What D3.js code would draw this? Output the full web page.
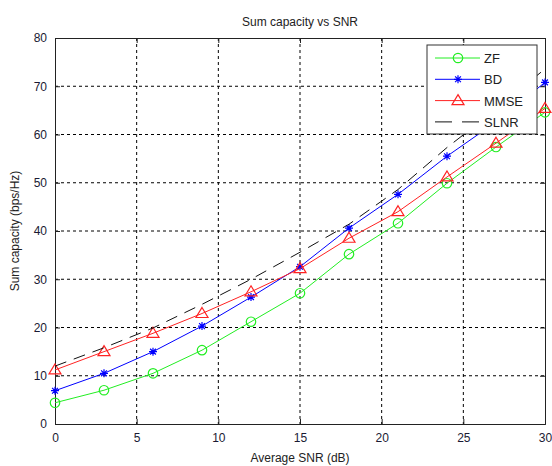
<!DOCTYPE html>
<html>
<head>
<meta charset="utf-8">
<script src="https://cdn.jsdelivr.net/npm/d3@7"></script>
<style>
  body { margin: 0; background: #fff; }
  svg { font-family: "Liberation Sans", Arial, sans-serif; }
</style>
</head>
<body>
<svg id="chart" width="552" height="466"></svg>
<script>
// values
const snr = [0, 3, 6, 9, 12, 15, 18, 21, 24, 27, 30];
const zf = [4.4, 7.0, 10.5, 15.3, 21.2, 27.1, 35.2, 41.6, 49.9, 57.4, 64.6];
const bd = [6.9, 10.5, 15.0, 20.3, 26.3, 32.6, 40.6, 47.6, 55.5, 62.6, 70.8];
const mmse = [11.2, 15.0, 18.8, 22.9, 27.4, 32.2, 38.5, 44.0, 51.2, 58.2, 65.4];
const slnr = [12.0, 15.8, 19.9, 24.8, 30.0, 35.6, 41.4, 48.6, 57.3, 65.2, 73.6];
const xTicks = [0, 5, 10, 15, 20, 25, 30];
const yTicks = [0, 10, 20, 30, 40, 50, 60, 70, 80];

const series = [
  { name: "ZF", values: zf, color: "#22ee22", marker: "circle", dash: null },
  { name: "BD", values: bd, color: "#0000ff", marker: "star", dash: null },
  { name: "MMSE", values: mmse, color: "#ff2222", marker: "triangle", dash: null },
  { name: "SLNR", values: slnr, color: "#111", marker: null, dash: "12,8" }
];

const margin = { top: 38, right: 7, bottom: 42, left: 55 };
const width = 552 - margin.left - margin.right;
const height = 466 - margin.top - margin.bottom;

const svg = d3.select("#chart");
const g = svg.append("g").attr("transform", `translate(${margin.left},${margin.top})`);

const x = d3.scaleLinear().domain([0, 30]).range([0, width]);
const y = d3.scaleLinear().domain([0, 80]).range([height, 0]);

// grid
g.append("g").selectAll("line").data(xTicks.slice(1, -1)).join("line")
  .attr("x1", d => x(d)).attr("x2", d => x(d))
  .attr("y1", 0).attr("y2", height)
  .attr("stroke", "#000").attr("stroke-width", 1).attr("stroke-dasharray", "3,3");
g.append("g").selectAll("line").data(yTicks.slice(1, -1)).join("line")
  .attr("y1", d => y(d)).attr("y2", d => y(d))
  .attr("x1", 0).attr("x2", width)
  .attr("stroke", "#000").attr("stroke-width", 1).attr("stroke-dasharray", "3,3");

// axes
const xAxis = g.append("g").attr("transform", `translate(0,${height})`)
  .call(d3.axisBottom(x).tickValues(xTicks).tickSize(-5).tickPadding(9));
const yAxis = g.append("g")
  .call(d3.axisLeft(y).tickValues(yTicks).tickSize(-5).tickPadding(8));
g.append("g").attr("transform", `translate(${width},0)`)
  .call(d3.axisRight(y).tickValues(yTicks).tickSize(-5).tickFormat(""));
g.append("g")
  .call(d3.axisTop(x).tickValues(xTicks).tickSize(-5).tickFormat(""));
g.selectAll(".domain").attr("stroke", "#222");
g.selectAll(".tick line").attr("stroke", "#222");
g.selectAll(".tick text").attr("font-size", 12).attr("fill", "#1a1a33")
  .attr("font-family", "'Liberation Sans', Arial, sans-serif");

// markers
function markerPath(type, s) {
  if (type === "circle") return d3.symbol(d3.symbolCircle, 70)();
  if (type === "triangle") return `M0,${-6}L6,4L-6,4Z`;
  if (type === "star") {
    const a = 4, b = 2.9;
    return `M${-a},0L${a},0M0,${-a}L0,${a}M${-b},${-b}L${b},${b}M${-b},${b}L${b},${-b}`;
  }
  return null;
}

const line = d3.line().x((d, i) => x(snr[i])).y(d => y(d));

series.forEach(s => {
  g.append("path")
    .datum(s.values)
    .attr("d", line)
    .attr("fill", "none")
    .attr("stroke", s.color)
    .attr("stroke-width", 1)
    .attr("stroke-dasharray", s.dash);
  if (s.marker) {
    g.append("g").selectAll("path").data(s.values).join("path")
      .attr("transform", (d, i) => `translate(${x(snr[i])},${y(d)})`)
      .attr("d", markerPath(s.marker))
      .attr("fill", "none")
      .attr("stroke", s.color)
      .attr("stroke-width", 1.2);
  }
});

// title and labels
svg.append("text").attr("x", 300).attr("y", 26).attr("text-anchor", "middle")
  .attr("font-size", 12).attr("fill", "#222").text("Sum capacity vs SNR");
svg.append("text").attr("x", margin.left + width / 2).attr("y", 462).attr("text-anchor", "middle")
  .attr("font-size", 12).attr("fill", "#222").text("Average SNR (dB)");
svg.append("text")
  .attr("transform", `translate(19,${margin.top + height / 2}) rotate(-90)`)
  .attr("text-anchor", "middle")
  .attr("font-size", 12).attr("fill", "#222").text("Sum capacity (bps/Hz)");

// legend
const legend = svg.append("g").attr("transform", "translate(427,45)");
legend.append("rect").attr("width", 110).attr("height", 89)
  .attr("fill", "#fff").attr("stroke", "#333").attr("stroke-width", 1);
series.forEach((s, i) => {
  const ly = 13 + i * 21.3;
  legend.append("line").attr("x1", 8).attr("x2", 53).attr("y1", ly).attr("y2", ly)
    .attr("stroke", s.color).attr("stroke-width", 1)
    .attr("stroke-dasharray", s.dash ? "17,10" : null);
  if (s.marker) {
    legend.append("path").attr("transform", `translate(31,${ly})`)
      .attr("d", markerPath(s.marker))
      .attr("fill", "none").attr("stroke", s.color).attr("stroke-width", 1.2);
  }
  legend.append("text").attr("x", 57).attr("y", ly + 5)
    .attr("font-size", 13).attr("fill", "#222").text(s.name);
});
</script>
</body>
</html>
